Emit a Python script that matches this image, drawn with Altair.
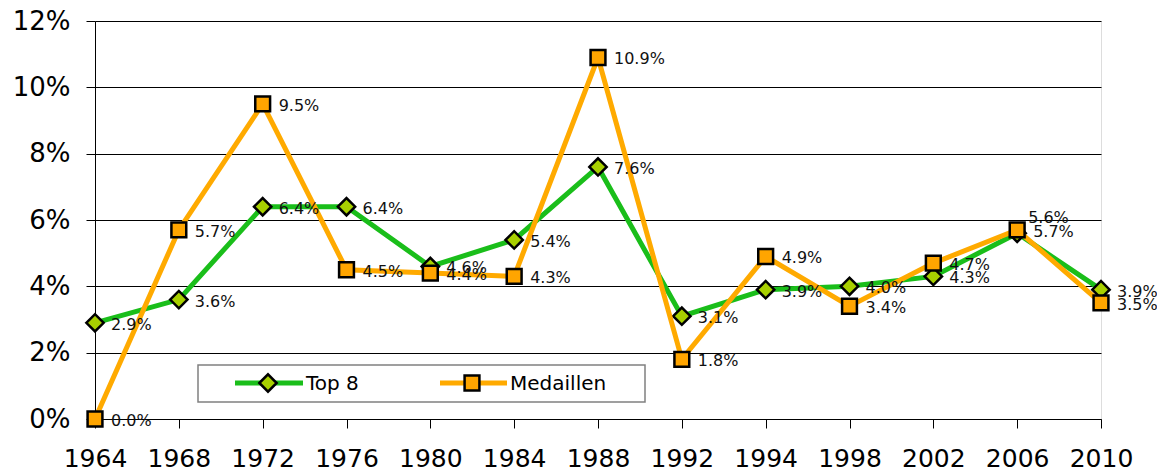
import altair as alt
import pandas as pd

years = ["1964", "1968", "1972", "1976", "1980", "1984", "1988",
         "1992", "1994", "1998", "2002", "2006", "2010"]
top8 = [2.9, 3.6, 6.4, 6.4, 4.6, 5.4, 7.6, 3.1, 3.9, 4.0, 4.3, 5.6, 3.9]
medaillen = [0.0, 5.7, 9.5, 4.5, 4.4, 4.3, 10.9, 1.8, 4.9, 3.4, 4.7, 5.7, 3.5]
series_names = ["Top 8", "Medaillen"]
y_ticks = [0, 2, 4, 6, 8, 10, 12]

rows = []
for i, yr in enumerate(years):
    rows.append({"year": yr, "series": "Top 8", "value": top8[i]})
    rows.append({"year": yr, "series": "Medaillen", "value": medaillen[i]})
df = pd.DataFrame(rows)
df["label"] = df["value"].map(lambda v: f"{v:.1f}%")

FONT = "DejaVu Sans"
GREEN_LINE = "#1ABE1A"
GREEN_FILL = "#A8D000"
ORANGE_LINE = "#FFAA00"
ORANGE_FILL = "#FFA500"

W, H = 1006, 398

x_enc = alt.X(
    "year:O", sort=years,
    scale=alt.Scale(type="point", padding=0),
    axis=alt.Axis(title=None, labelAngle=0, labelFontSize=25, labelFont=FONT,
                  labelColor="black", tickSize=9, tickColor="black",
                  domainColor="black", labelPadding=18, grid=False),
)
y_enc = alt.Y(
    "value:Q",
    scale=alt.Scale(domain=[0, 12], nice=False),
    axis=alt.Axis(title=None, values=y_ticks, labelExpr="datum.value + '%'",
                  labelFontSize=26, labelFont=FONT, labelColor="black",
                  tickSize=9, tickColor="black", domainColor="black",
                  gridColor="black", gridOpacity=1, labelPadding=16),
)

base = alt.Chart(df).encode(x=x_enc, y=y_enc)

def series_layers(name, line_color, fill, shape, size):
    d = base.transform_filter(alt.datum.series == name)
    line = d.mark_line(color=line_color, strokeWidth=5)
    pts = d.mark_point(shape=shape, size=size, filled=True, fill=fill,
                       stroke="black", strokeWidth=2.5, opacity=1)
    return line + pts

top_layers = series_layers("Top 8", GREEN_LINE, GREEN_FILL, "diamond", 300)
med_layers = series_layers("Medaillen", ORANGE_LINE, ORANGE_FILL, "square", 220)

labels = base.transform_filter(
    "!(datum.series == 'Top 8' && datum.year == '2006')"
).mark_text(align="left", baseline="middle", dx=16, dy=2, fontSize=16,
            font=FONT, color="#111111").encode(text="label:N")
label_2006 = base.transform_filter(
    "datum.series == 'Top 8' && datum.year == '2006'"
).mark_text(align="left", baseline="middle", dx=11, dy=-15, fontSize=16,
            font=FONT, color="#111111").encode(text="label:N")

# Legend (custom, drawn inside plot area)
leg_df = pd.DataFrame({"series": series_names})
leg = alt.Chart(leg_df)
leg_box = leg.transform_filter(alt.datum.series == "Top 8").mark_rect(
    fill="white", stroke="#808080", strokeWidth=1.5
).encode(x=alt.value(103), x2=alt.value(550), y=alt.value(344), y2=alt.value(381))
leg_g_line = leg.transform_filter(alt.datum.series == "Top 8").mark_rule(
    color=GREEN_LINE, strokeWidth=5
).encode(x=alt.value(140), x2=alt.value(208), y=alt.value(362))
leg_g_pt = leg.transform_filter(alt.datum.series == "Top 8").mark_point(
    shape="diamond", size=300, filled=True, fill=GREEN_FILL, stroke="black",
    strokeWidth=2.5, opacity=1
).encode(x=alt.value(173), y=alt.value(362))
leg_g_txt = leg.transform_filter(alt.datum.series == "Top 8").mark_text(
    align="left", baseline="middle", fontSize=20, font=FONT, color="black"
).encode(x=alt.value(211), y=alt.value(363), text="series:N")
leg_o_line = leg.transform_filter(alt.datum.series == "Medaillen").mark_rule(
    color=ORANGE_LINE, strokeWidth=5
).encode(x=alt.value(345), x2=alt.value(412), y=alt.value(362))
leg_o_pt = leg.transform_filter(alt.datum.series == "Medaillen").mark_point(
    shape="square", size=220, filled=True, fill=ORANGE_FILL, stroke="black",
    strokeWidth=2.5, opacity=1
).encode(x=alt.value(377), y=alt.value(362))
leg_o_txt = leg.transform_filter(alt.datum.series == "Medaillen").mark_text(
    align="left", baseline="middle", fontSize=20, font=FONT, color="black"
).encode(x=alt.value(415), y=alt.value(363), text="series:N")

chart = alt.layer(
    top_layers, med_layers, labels, label_2006,
    leg_box, leg_g_line, leg_g_pt, leg_g_txt, leg_o_line, leg_o_pt, leg_o_txt,
).properties(
    width=W, height=H,
    autosize=alt.AutoSizeParams(type="none"),
    padding={"left": 87, "top": 13, "right": 56, "bottom": 56},
).configure_view(stroke="#808080", strokeWidth=1.5).configure(background="white")

chart.save("out.html", embed_options={"renderer": "svg", "actions": False})
